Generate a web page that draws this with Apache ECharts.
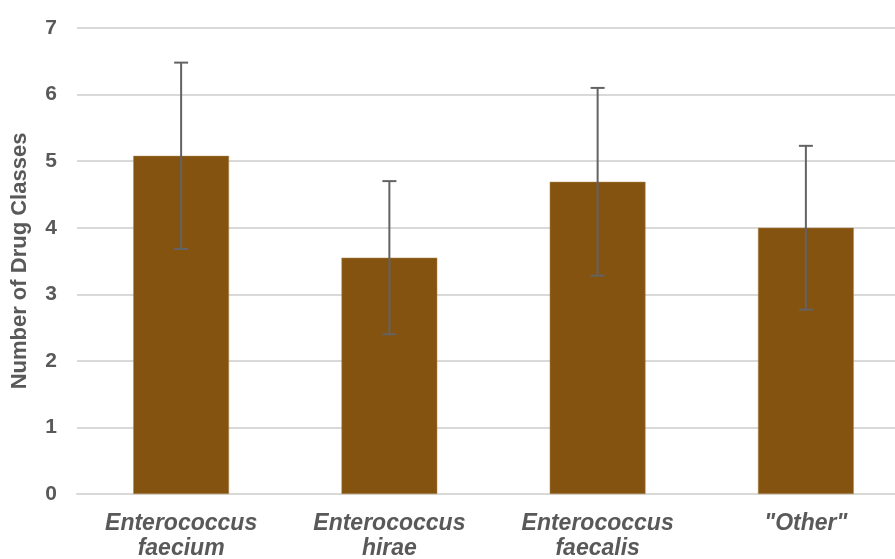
<!DOCTYPE html>
<html><head><meta charset="utf-8">
<script src="https://cdn.jsdelivr.net/npm/echarts@6/dist/echarts.min.js"></script>
<style>html,body{margin:0;padding:0;background:#fff}#c{width:895px;height:559px}</style>
</head><body><div id="c"></div>
<script>
const categories = ["Enterococcus\nfaecium", "Enterococcus\nhirae", "Enterococcus\nfaecalis", "\"Other\""];
const values = [5.08, 3.55, 4.69, 4.0];
const errors = [1.40, 1.15, 1.41, 1.23];
const yTicks = [0, 1, 2, 3, 4, 5, 6, 7];

const chart = echarts.init(document.getElementById('c'));
const errData = values.map((v, i) => [i, v - errors[i], v + errors[i]]);
chart.setOption({
  animation: false,
  grid: { left: 77, right: -15, top: 28, bottom: 65, containLabel: false, outerBoundsMode: 'none' },
  xAxis: {
    type: 'category', data: categories,
    axisLine: { show: true, lineStyle: { color: '#d9d9d9', width: 2 } },
    axisTick: { show: false },
    axisLabel: { fontFamily: 'Liberation Sans', fontWeight: 'bold', fontStyle: 'italic', fontSize: 23, color: '#595959', lineHeight: 25, margin: 17 }
  },
  yAxis: {
    type: 'value', min: yTicks[0], max: yTicks[yTicks.length - 1], interval: 1,
    name: 'Number of Drug Classes', nameLocation: 'middle', nameGap: 46, nameRotate: 90,
    nameTextStyle: { fontFamily: 'Liberation Sans', fontWeight: 'bold', fontSize: 22, color: '#595959' },
    axisLine: { show: false }, axisTick: { show: false },
    axisLabel: { fontFamily: 'Liberation Sans', fontWeight: 'bold', fontSize: 21, color: '#595959', margin: 20 },
    splitLine: { lineStyle: { color: '#d9d9d9', width: 2 } }
  },
  series: [
    {
      type: 'bar', data: values, barWidth: '46%',
      itemStyle: { color: '#845310', borderColor: '#b08a55', borderWidth: 0.5 }
    },
    {
      type: 'custom', data: errData, z: 10,
      renderItem: function (params, api) {
        const x = api.value(0);
        const lo = api.coord([x, api.value(1)]);
        const hi = api.coord([x, api.value(2)]);
        const w = 7;
        const style = { stroke: '#636363', lineWidth: 2 };
        return {
          type: 'group', children: [
            { type: 'line', shape: { x1: hi[0], y1: hi[1], x2: lo[0], y2: lo[1] }, style },
            { type: 'line', shape: { x1: hi[0] - w, y1: hi[1], x2: hi[0] + w, y2: hi[1] }, style },
            { type: 'line', shape: { x1: lo[0] - w, y1: lo[1], x2: lo[0] + w, y2: lo[1] }, style }
          ]
        };
      }
    }
  ]
});
</script></body></html>
